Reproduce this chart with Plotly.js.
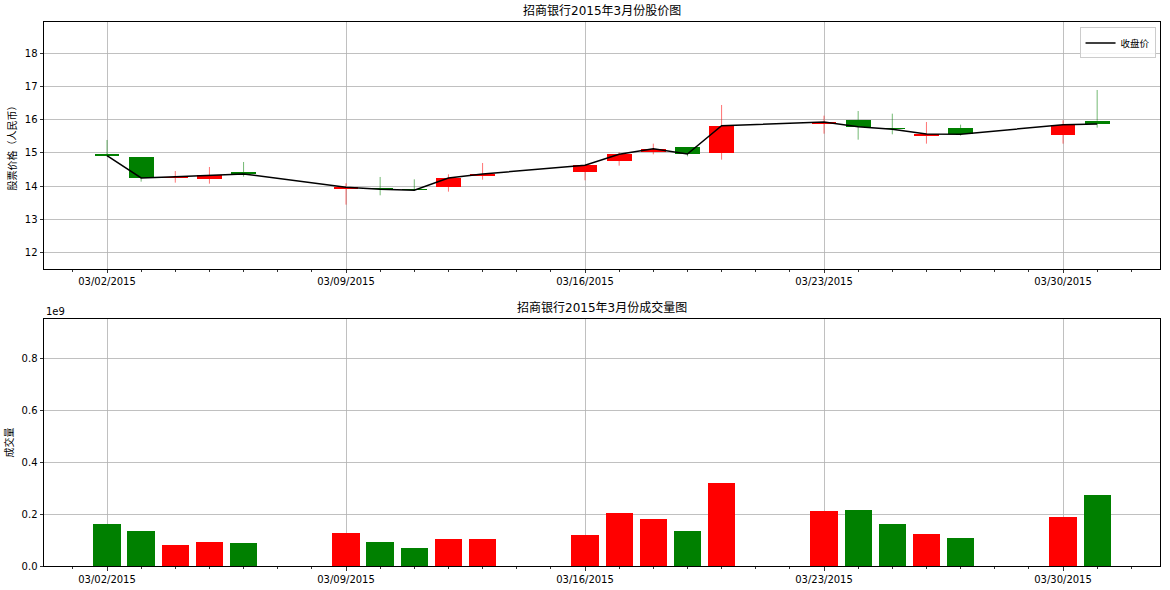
<!DOCTYPE html>
<html>
<head>
<meta charset="utf-8">
<script src="https://cdn.plot.ly/plotly-3.0.1.min.js"></script>
<style>html,body{margin:0;padding:0;background:#fff;}#chart{width:1170px;height:590px;}</style>
</head>
<body>
<div id="chart"></div>
<script>
// ---- data ----
const dates = ['2015-03-02','2015-03-03','2015-03-04','2015-03-05','2015-03-06',
               '2015-03-09','2015-03-10','2015-03-11','2015-03-12','2015-03-13',
               '2015-03-16','2015-03-17','2015-03-18','2015-03-19','2015-03-20',
               '2015-03-23','2015-03-24','2015-03-25','2015-03-26','2015-03-27',
               '2015-03-30','2015-03-31'];
const openP  = [14.97,14.88,14.25,14.23,14.43, 13.92,13.94,13.92,13.98,14.32, 14.44,14.76,15.03,15.19,15.00, 15.88,15.99,15.75,15.52,15.75, 15.55,15.97];
const closeP = [14.92,14.25,14.29,14.33,14.37, 13.97,13.91,13.88,14.25,14.37, 14.63,14.96,15.13,14.97,15.82, 15.93,15.79,15.71,15.57,15.56, 15.85,15.87];
const highP  = [15.39,14.88,14.46,14.58,14.73, 14.09,14.28,14.21,14.36,14.70, 14.65,15.02,15.28,15.19,16.44, 16.12,16.26,16.18,15.93,15.85, 15.98,16.89];
const lowP   = [14.90,14.14,14.11,14.08,14.29, 13.45,13.73,13.86,13.84,14.20, 14.18,14.62,14.96,14.90,14.80, 15.58,15.40,15.56,15.28,15.52, 15.28,15.76];
const volume = [0.162e9,0.135e9,0.081e9,0.093e9,0.089e9, 0.127e9,0.093e9,0.069e9,0.104e9,0.104e9,
                0.120e9,0.205e9,0.181e9,0.135e9,0.320e9, 0.212e9,0.216e9,0.162e9,0.124e9,0.108e9,
                0.189e9,0.274e9];
const titleTop = '招商银行2015年3月份股价图';
const titleBottom = '招商银行2015年3月份成交量图';
const yTitleTop = '股票价格（人民币）';
const yTitleBottom = '成交量';
const legendName = '收盘价';
const volTicks = [0, 0.2e9, 0.4e9, 0.6e9, 0.8e9];
const volTickText = ['0.0','0.2','0.4','0.6','0.8'];

// ---- styling ----
const RED = '#ff0000', GREEN = '#008000';
const DAY = 86400000;
const up = closeP.map((c,i)=> c >= openP[i]);
const colors = up.map(u => u ? RED : GREEN);

// wicks split into segments above and below the body
function wickTrace(isUp, color){
  const xs=[], ys=[];
  dates.forEach((d,i)=>{
    if(up[i]!==isUp) return;
    const top=Math.max(openP[i],closeP[i]), bot=Math.min(openP[i],closeP[i]);
    xs.push(d,d,null,d,d,null);
    ys.push(highP[i],top,null,bot,lowP[i],null);
  });
  return {type:'scatter',mode:'lines',x:xs,y:ys,xaxis:'x',yaxis:'y',
    line:{color:color,width:1},hoverinfo:'skip',showlegend:false};
}

const bodyTrace = {
  type:'bar', x:dates, base:openP.map((o,i)=>Math.min(o,closeP[i])),
  y:openP.map((o,i)=>Math.max(Math.abs(closeP[i]-o),0.03)),
  width:dates.map(()=>0.73*DAY), marker:{color:colors,line:{width:0}},
  xaxis:'x', yaxis:'y', showlegend:false, hoverinfo:'skip'
};
const closeTrace = {
  type:'scatter', mode:'lines', x:dates, y:closeP, name:legendName,
  line:{color:'#000000',width:1.5}, xaxis:'x', yaxis:'y'
};
const volTrace = {
  type:'bar', x:dates, y:volume, width:dates.map(()=>0.8*DAY),
  marker:{color:colors,line:{width:0}}, xaxis:'x2', yaxis:'y2', showlegend:false
};

const FONT = 'DejaVu Sans, Noto Sans CJK SC, sans-serif';
const xCommon = {
  type:'date', range:['2015-02-28 03:43','2015-04-01 20:10'],
  tick0:'2015-03-02', dtick:7*DAY, tickformat:'%m/%d/%Y',
  showgrid:true, gridcolor:'#b0b0b0', gridwidth:0.8,
  showline:true, linecolor:'#000', linewidth:1, mirror:true,
  ticks:'outside', ticklen:3.5, tickcolor:'#000', tickwidth:0.8,
  tickfont:{size:10,color:'#000',family:FONT}, zeroline:false,
  minor:{dtick:DAY, tick0:'2015-03-02', ticks:'outside', ticklen:2, tickcolor:'#000', showgrid:false}
};
const yCommon = {
  showgrid:true, gridcolor:'#b0b0b0', gridwidth:0.8,
  showline:true, linecolor:'#000', linewidth:1, mirror:true,
  ticks:'outside', ticklen:3.5, tickcolor:'#000', tickwidth:0.8,
  tickfont:{size:10,color:'#000',family:FONT}, zeroline:false
};

const layout = {
  width:1170, height:590, paper_bgcolor:'#fff', plot_bgcolor:'#fff',
  margin:{l:44,r:10,t:22,b:24}, barmode:'overlay', bargap:0,
  font:{family:FONT,color:'#000',size:10},
  xaxis:Object.assign({}, xCommon, {domain:[0,1], anchor:'y'}),
  yaxis:Object.assign({}, yCommon, {domain:[0.546,1], anchor:'x', range:[11.52,18.93], dtick:1,
    title:{text:yTitleTop, font:{size:10,family:FONT}, standoff:6}}),
  xaxis2:Object.assign({}, xCommon, {domain:[0,1], anchor:'y2'}),
  yaxis2:Object.assign({}, yCommon, {domain:[0,0.454], anchor:'x2', range:[0,0.954e9],
    tickvals:volTicks, ticktext:volTickText,
    title:{text:yTitleBottom, font:{size:10,family:FONT}, standoff:6}}),
  legend:{x:0.996, xanchor:'right', y:0.99, yanchor:'top', bgcolor:'rgba(255,255,255,0.8)',
    bordercolor:'#cccccc', borderwidth:1, font:{size:9.5,family:FONT}, tracegroupgap:0,
    itemwidth:30, entrywidth:0},
  showlegend:true,
  annotations:[
    {text:titleTop, xref:'paper', yref:'paper', x:0.5, y:1, yanchor:'bottom', yshift:2,
     showarrow:false, font:{size:12,family:FONT,color:'#000'}},
    {text:titleBottom, xref:'paper', yref:'paper', x:0.5, y:0.454, yanchor:'bottom', yshift:2,
     showarrow:false, font:{size:12,family:FONT,color:'#000'}},
    {text:'1e9', xref:'paper', yref:'paper', x:0, xanchor:'left', y:0.454, yanchor:'bottom', yshift:0,
     showarrow:false, font:{size:10,family:FONT,color:'#000'}}
  ]
};

Plotly.newPlot('chart',[wickTrace(true,'rgba(255,0,0,0.55)'), wickTrace(false,'rgba(0,128,0,0.55)'),
  bodyTrace, closeTrace, volTrace], layout, {displayModeBar:false, staticPlot:true});
</script>
</body>
</html>
